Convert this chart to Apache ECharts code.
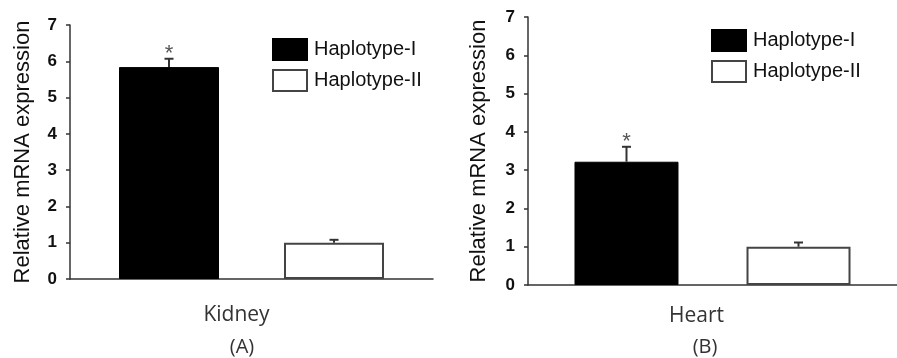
<!DOCTYPE html>
<html>
<head>
<meta charset="utf-8">
<script src="https://cdn.jsdelivr.net/npm/echarts@6/dist/echarts.min.js"></script>
<style>
  html, body { margin: 0; padding: 0; background: #fff; }
  #chart { width: 897px; height: 358px; }
</style>
</head>
<body>
<div id="chart"></div>
<script>
// data
const haplotypes = ["Haplotype-I", "Haplotype-II"];
const kidneyCategory = ["Kidney"];
const kidneyMean = [5.84, 1.0];
const kidneyErr = [0.23, 0.08];
const kidneySig = ["*", ""];
const heartCategory = ["Heart"];
const heartMean = [3.22, 1.0];
const heartErr = [0.39, 0.11];
const heartSig = ["*", ""];
const panelLabels = ["(A)", "(B)"];

const AX = "#333";
const ARIAL = "'Liberation Sans', Arial, sans-serif";
const CAT_FONT = "'Open Sans', sans-serif";

const barStyles = [
  { color: "#000", borderColor: "#000", borderWidth: 1 },
  { color: "#fff", borderColor: "#444", borderWidth: 2 }
];

// per panel layout
const panels = [
  {
    cat: kidneyCategory, mean: kidneyMean, err: kidneyErr, sig: kidneySig,
    grid: { left: 70, right: 464, top: 25, bottom: 79 },
    barW: 100, gap: 65, labelShift: 30, catMargin: 26, nameGap: 36,
    legend: { left: 267, top: 33 }, label: { x: 242, y: 337 }
  },
  {
    cat: heartCategory, mean: heartMean, err: heartErr, sig: heartSig,
    grid: { left: 528, right: -15, top: 17, bottom: 73 },
    barW: 104, gap: 68, labelShift: 32, catMargin: 21, nameGap: 38,
    legend: { left: 706, top: 24 }, label: { x: 705, y: 337 }
  }
];

const chart = echarts.init(document.getElementById("chart"));

const grid = [], xAxis = [], yAxis = [], legend = [], title = [], series = [];

panels.forEach((p, k) => {
  grid.push(Object.assign({ containLabel: false }, p.grid));
  xAxis.push({
    type: "category",
    gridIndex: k,
    data: p.cat,
    axisLine: { lineStyle: { color: AX, width: 1.5 } },
    axisTick: { show: false },
    axisLabel: {
      color: "#333",
      fontFamily: CAT_FONT,
      fontSize: 21,
      margin: p.catMargin,
      padding: [0, p.labelShift, 0, 0]
    }
  });
  yAxis.push({
    type: "value",
    gridIndex: k,
    min: 0,
    max: 7,
    interval: 1,
    name: "Relative mRNA expression",
    nameLocation: "middle",
    nameGap: p.nameGap,
    nameTextStyle: { color: "#111", fontFamily: ARIAL, fontSize: 22 },
    axisLine: { show: true, lineStyle: { color: AX, width: 1.5 } },
    axisTick: { show: true, length: 4, lineStyle: { color: AX, width: 1.5 } },
    axisLabel: {
      color: "#111",
      fontFamily: ARIAL,
      fontWeight: "bold",
      fontSize: 17,
      margin: 13
    },
    splitLine: { show: false }
  });
  legend.push({
    orient: "vertical",
    left: p.legend.left,
    top: p.legend.top,
    itemWidth: 34,
    itemHeight: 21,
    itemGap: 8,
    icon: "rect",
    data: haplotypes,
    textStyle: { color: "#111", fontFamily: ARIAL, fontSize: 20, padding: [0, 0, 0, 2] },
    selectedMode: false
  });
  title.push({
    text: panelLabels[k],
    left: p.label.x,
    top: p.label.y,
    textAlign: "center",
    padding: 0,
    textStyle: { color: "#333", fontFamily: CAT_FONT, fontSize: 20, fontWeight: "normal" }
  });

  haplotypes.forEach((h, i) => {
    series.push({
      name: h,
      type: "bar",
      xAxisIndex: k,
      yAxisIndex: k,
      barWidth: p.barW,
      barGap: (p.gap / p.barW * 100).toFixed(1) + "%",
      itemStyle: barStyles[i],
      data: [p.mean[i]],
      z: 2
    });
  });

  // upper error whiskers + significance marks
  series.push({
    type: "custom",
    xAxisIndex: k,
    yAxisIndex: k,
    z: 5,
    silent: true,
    data: haplotypes.map((h, i) => [0, p.mean[i], p.err[i], i]),
    renderItem: (params, api) => {
      const i = api.value(3);
      const mean = api.value(1);
      const top = api.coord([0, mean + api.value(2)]);
      const base = api.coord([0, mean]);
      const x = top[0] + (i - 0.5) * (p.barW + p.gap);
      const style = { stroke: AX, lineWidth: 2 };
      const children = [
        { type: "line", shape: { x1: x, y1: base[1], x2: x, y2: top[1] }, style },
        { type: "line", shape: { x1: x - 4.5, y1: top[1], x2: x + 4.5, y2: top[1] }, style }
      ];
      if (p.sig[i]) {
        children.push({
          type: "text",
          style: {
            text: p.sig[i],
            x: x,
            y: top[1] - 5,
            align: "center",
            verticalAlign: "middle",
            fill: "#555",
            font: "22px " + ARIAL
          }
        });
      }
      return { type: "group", children };
    }
  });
});

chart.setOption({
  animation: false,
  backgroundColor: "#fff",
  title,
  legend,
  grid,
  xAxis,
  yAxis,
  series
});
</script>
</body>
</html>
